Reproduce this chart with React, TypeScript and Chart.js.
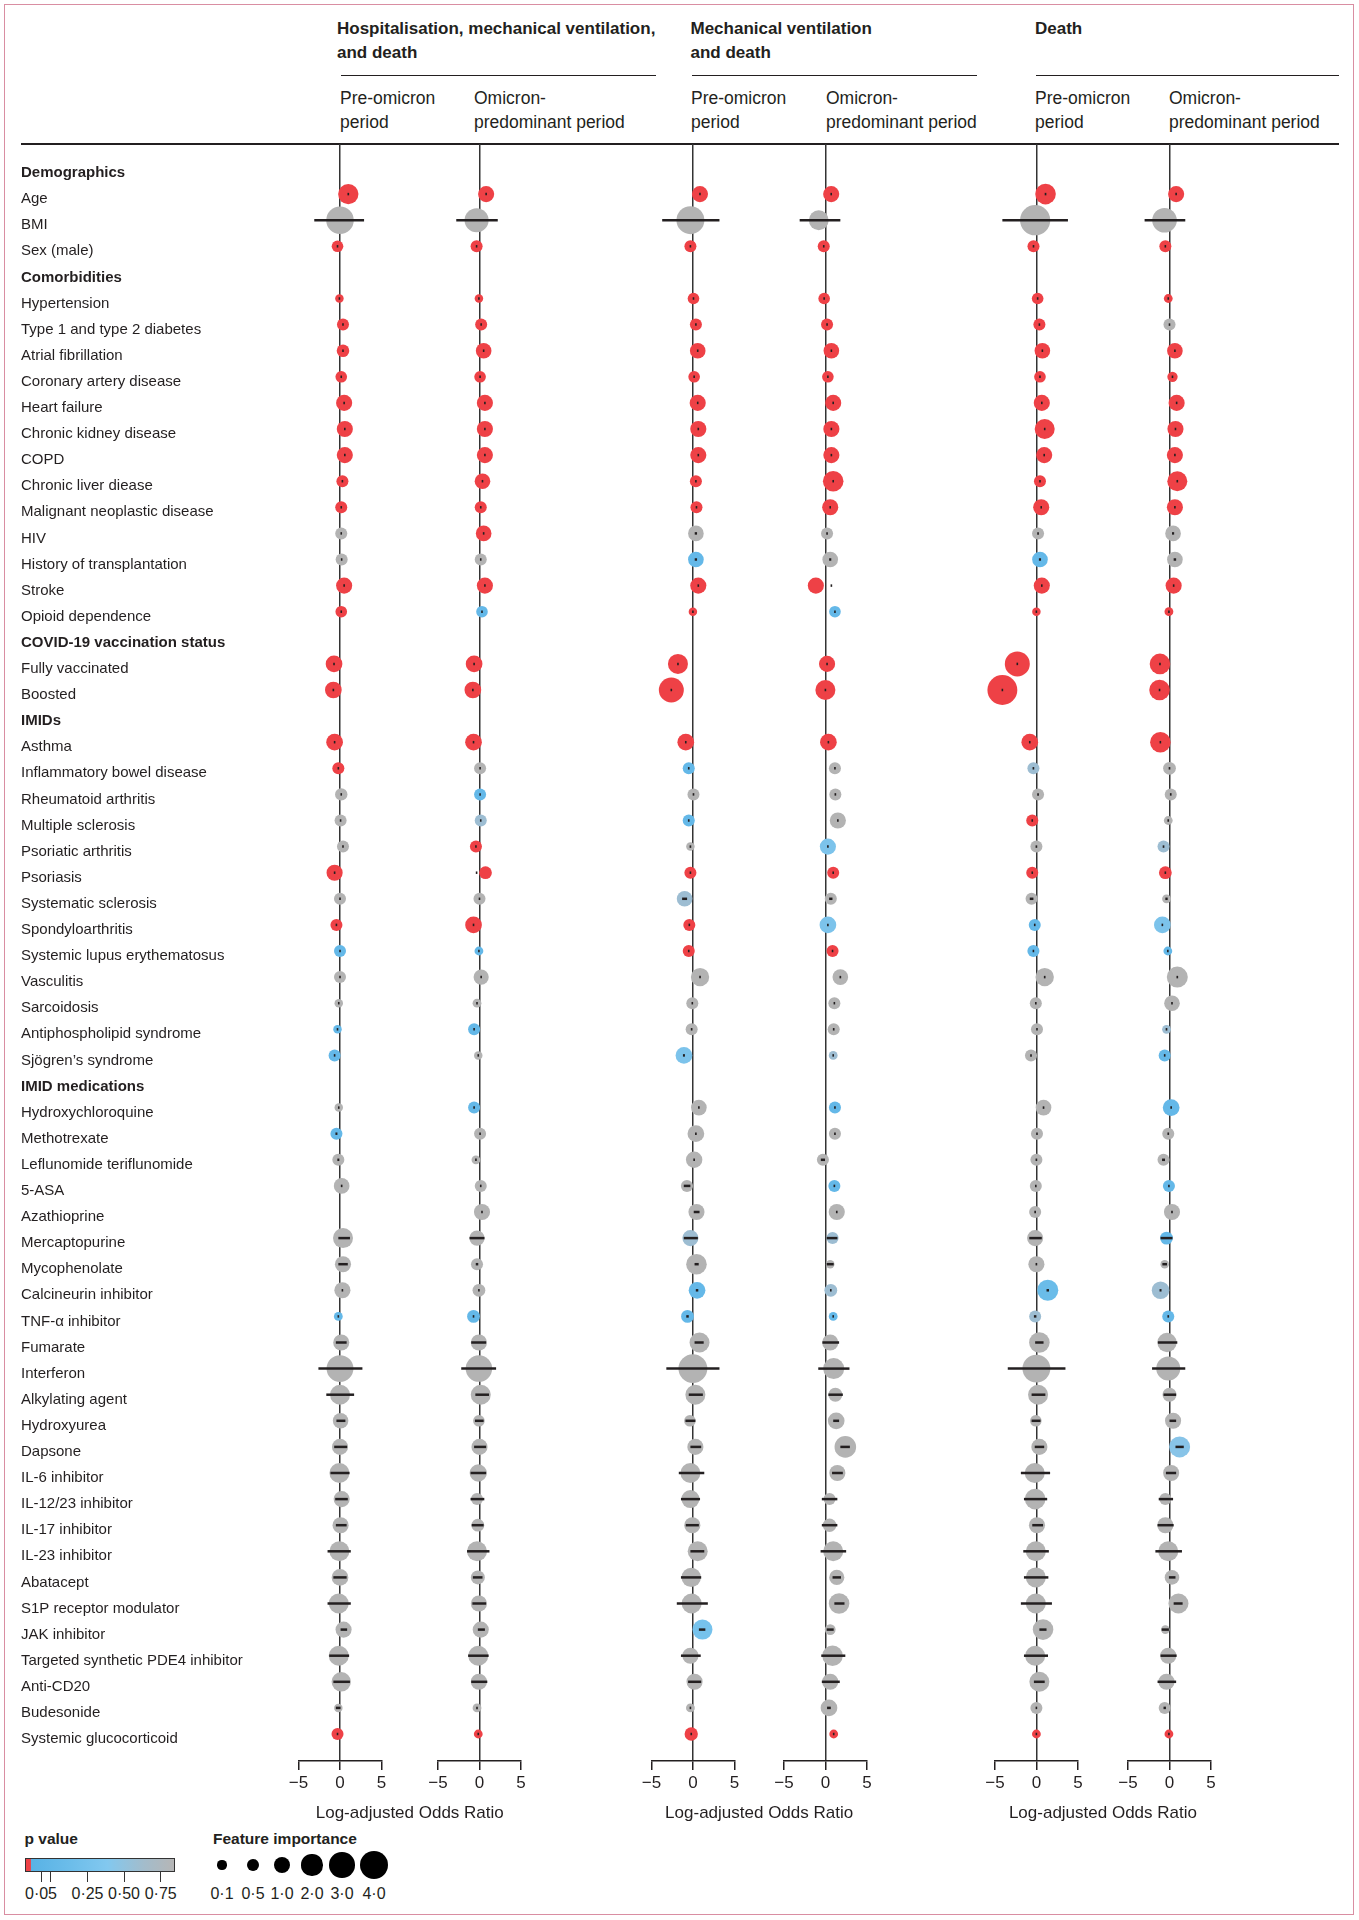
import React, { useEffect, useRef } from 'react';
import { Chart, registerables } from 'chart.js';

Chart.register(...registerables);

const _ = null;

// ---------------- categories ----------------
const ROW_LABELS = [
  'Demographics', 'Age', 'BMI', 'Sex (male)',
  'Comorbidities', 'Hypertension', 'Type 1 and type 2 diabetes', 'Atrial fibrillation', 'Coronary artery disease',
  'Heart failure', 'Chronic kidney disease', 'COPD', 'Chronic liver diease', 'Malignant neoplastic disease', 'HIV',
  'History of transplantation', 'Stroke', 'Opioid dependence',
  'COVID-19 vaccination status', 'Fully vaccinated', 'Boosted',
  'IMIDs', 'Asthma', 'Inflammatory bowel disease', 'Rheumatoid arthritis', 'Multiple sclerosis', 'Psoriatic arthritis',
  'Psoriasis', 'Systematic sclerosis', 'Spondyloarthritis', 'Systemic lupus erythematosus', 'Vasculitis', 'Sarcoidosis',
  'Antiphospholipid syndrome', 'Sjögren’s syndrome',
  'IMID medications', 'Hydroxychloroquine', 'Methotrexate', 'Leflunomide teriflunomide', '5-ASA', 'Azathioprine',
  'Mercaptopurine', 'Mycophenolate', 'Calcineurin inhibitor', 'TNF-α inhibitor', 'Fumarate', 'Interferon',
  'Alkylating agent', 'Hydroxyurea', 'Dapsone', 'IL-6 inhibitor', 'IL-12/23 inhibitor', 'IL-17 inhibitor',
  'IL-23 inhibitor', 'Abatacept', 'S1P receptor modulator', 'JAK inhibitor', 'Targeted synthetic PDE4 inhibitor',
  'Anti-CD20', 'Budesonide', 'Systemic glucocorticoid',
];
const HEADER_ROWS = [0, 4, 18, 21, 35];

const GROUP_TITLES = [
  ['Hospitalisation, mechanical ventilation,', 'and death'],
  ['Mechanical ventilation', 'and death'],
  ['Death'],
];
const PERIOD_TITLES = [
  ['Pre-omicron', 'period'],
  ['Omicron-', 'predominant period'],
];
const X_TICKS = [-5, 0, 5];
const X_TITLE = 'Log-adjusted Odds Ratio';
const P_LEGEND_TITLE = 'p value';
const P_LEGEND_LABELS = ['0·05', '0·25', '0·50', '0·75'];
const IMP_LEGEND_TITLE = 'Feature importance';
const IMP_LEGEND_VALUES = [0.1, 0.5, 1.0, 2.0, 3.0, 4.0];
const IMP_LEGEND_LABELS = ['0·1', '0·5', '1·0', '2·0', '3·0', '4·0'];

// ---------------- Panel 1: hospitalisation/MV/death, pre-omicron ----------------
const HMD_PRE_OR = [_, 1.0, 0, -0.3,
  _, -0.07, 0.36, 0.36, 0.15, 0.5, 0.58, 0.58, 0.29, 0.15, 0.15, 0.2, 0.5, 0.15,
  _, -0.72, -0.8,
  _, -0.65, -0.2, 0.15, 0.07, 0.36, -0.65, 0, -0.43, 0, 0, -0.15, -0.3, -0.65,
  _, -0.15, -0.43, -0.2, 0.2, _, 0.36, 0.36, 0.29, -0.2, 0.15, 0, 0, 0.07, 0, -0.07, 0.2, 0.07, -0.07, 0, -0.15, 0.43, -0.15, 0.15, -0.2, -0.3];
const HMD_PRE_LO = [_, 0.9, -3.1, -0.36,
  _, -0.11, 0.31, 0.31, 0.1, 0.45, 0.53, 0.53, 0.24, 0.1, 0.07, 0.12, 0.45, 0.1,
  _, -0.77, -0.85,
  _, -0.7, -0.28, 0.07, -0.01, 0.28, -0.7, -0.1, -0.49, -0.07, -0.08, -0.2, -0.36, -0.73,
  _, -0.2, -0.55, -0.32, 0.1, _, -0.2, -0.2, 0.2, -0.26, -0.5, -2.6, -1.65, -0.43, -0.7, -1.15, -0.58, -0.5, -1.5, -0.8, -1.5, 0.07, -1.3, -0.8, -0.5, -0.35];
const HMD_PRE_HI = [_, 1.1, 2.9, -0.24,
  _, -0.03, 0.41, 0.41, 0.2, 0.55, 0.63, 0.63, 0.34, 0.2, 0.23, 0.28, 0.55, 0.2,
  _, -0.67, -0.75,
  _, -0.6, -0.12, 0.23, 0.15, 0.44, -0.6, 0.1, -0.37, 0.07, 0.08, -0.1, -0.24, -0.57,
  _, -0.1, -0.31, -0.08, 0.3, _, 1.2, 0.94, 0.38, -0.14, 0.8, 2.7, 1.7, 0.65, 0.86, 1.15, 0.94, 0.8, 1.3, 0.8, 1.3, 0.86, 1.1, 1.2, 0.07, -0.25];
const HMD_PRE_P = [_, 0.001, 0.85, 0.001,
  _, 0.001, 0.001, 0.001, 0.001, 0.001, 0.001, 0.001, 0.001, 0.001, 0.85, 0.85, 0.001, 0.001,
  _, 0.001, 0.001,
  _, 0.001, 0.001, 0.85, 0.85, 0.85, 0.001, 0.85, 0.001, 0.15, 0.85, 0.85, 0.15, 0.15,
  _, 0.85, 0.15, 0.85, 0.85, _, 0.85, 0.85, 0.85, 0.15, 0.85, 0.85, 0.85, 0.85, 0.85, 0.85, 0.85, 0.85, 0.85, 0.85, 0.85, 0.85, 0.85, 0.85, 0.85, 0.001];
const HMD_PRE_IMP = [_, 1.8, 3.6, 0.35,
  _, 0.02, 0.4, 0.47, 0.35, 1.0, 1.0, 1.0, 0.4, 0.4, 0.4, 0.4, 1.0, 0.35,
  _, 1.1, 1.1,
  _, 1.1, 0.4, 0.45, 0.4, 0.4, 1.0, 0.4, 0.4, 0.4, 0.4, 0.02, 0.02, 0.4,
  _, 0.02, 0.4, 0.4, 0.92, _, 1.73, 1.0, 1.0, 0.05, 1.0, 3.4, 1.73, 0.9, 1.0, 1.73, 1.0, 1.0, 1.73, 1.1, 1.73, 1.0, 1.73, 1.6, 0.02, 0.4];

// ---------------- Panel 2: hospitalisation/MV/death, omicron ----------------
const HMD_OMI_OR = [_, 0.8, -0.35, -0.35,
  _, -0.07, 0.2, 0.5, 0.07, 0.65, 0.65, 0.65, 0.36, 0.15, 0.5, 0.15, 0.65, 0.3,
  _, -0.65, -0.8,
  _, -0.72, 0.07, 0.07, 0.15, -0.43, 0.72, 0, -0.72, -0.07, 0.2, -0.3, -0.65, -0.15,
  _, -0.65, 0.07, -0.43, 0.15, 0.3, -0.3, -0.3, -0.07, -0.72, -0.07, -0.07, 0.15, -0.07, 0, -0.15, -0.3, -0.2, -0.3, -0.2, -0.07, 0.15, -0.15, -0.07, -0.3, -0.15];
const HMD_OMI_LO = [_, 0.72, -2.8, -0.41,
  _, -0.1, 0.15, 0.45, 0.02, 0.6, 0.6, 0.6, 0.3, 0.1, 0.42, 0.08, 0.6, 0.23,
  _, -0.7, -0.85,
  _, -0.77, -0.01, 0.0, 0.07, -0.52, -0.4, -0.08, -0.78, -0.11, 0.11, -0.36, -0.73, -0.2,
  _, -0.73, 0.0, -0.5, 0.08, 0.22, -1.2, -0.45, -0.12, -0.79, -1.0, -2.2, -0.5, -0.55, -0.65, -1.08, -1.08, -0.94, -1.5, -0.8, -0.86, -0.2, -1.37, -1.0, -0.36, -0.19];
const HMD_OMI_HI = [_, 0.88, 2.2, -0.29,
  _, -0.04, 0.25, 0.55, 0.12, 0.7, 0.7, 0.7, 0.42, 0.2, 0.58, 0.22, 0.7, 0.37,
  _, -0.6, -0.75,
  _, -0.67, 0.15, 0.14, 0.23, -0.34, -0.3, 0.08, -0.66, -0.03, 0.29, -0.24, -0.57, -0.1,
  _, -0.57, 0.14, -0.36, 0.22, 0.38, 0.6, -0.15, -0.02, -0.65, 0.8, 2.0, 1.15, 0.5, 0.8, 0.8, 0.58, 0.5, 1.2, 0.36, 0.8, 0.65, 1.1, 0.94, -0.24, -0.11];
const HMD_OMI_P = [_, 0.001, 0.85, 0.001,
  _, 0.001, 0.001, 0.001, 0.001, 0.001, 0.001, 0.001, 0.001, 0.001, 0.001, 0.85, 0.001, 0.15,
  _, 0.001, 0.001,
  _, 0.001, 0.85, 0.15, 0.6, 0.001, 0.001, 0.85, 0.001, 0.15, 0.85, 0.85, 0.15, 0.85,
  _, 0.15, 0.85, 0.85, 0.85, 0.85, 0.85, 0.85, 0.85, 0.15, 0.85, 0.85, 0.85, 0.85, 0.85, 0.85, 0.85, 0.85, 0.85, 0.85, 0.85, 0.85, 0.85, 0.85, 0.85, 0.001];
const HMD_OMI_IMP = [_, 1.0, 2.65, 0.4,
  _, 0.02, 0.4, 0.92, 0.35, 1.0, 1.0, 1.0, 0.92, 0.4, 0.92, 0.4, 1.0, 0.35,
  _, 1.1, 1.1,
  _, 1.1, 0.4, 0.4, 0.4, 0.4, 0.5, 0.4, 1.1, 0.05, 0.85, 0.05, 0.4, 0.02,
  _, 0.4, 0.4, 0.05, 0.4, 1.0, 0.85, 0.4, 0.5, 0.5, 1.0, 3.3, 1.73, 0.35, 1.0, 1.2, 0.4, 0.5, 1.73, 0.67, 1.0, 1.0, 1.73, 1.0, 0.05, 0.05];

// ---------------- Panel 3: MV and death, pre-omicron ----------------
const MVD_PRE_OR = [_, 0.85, -0.3, -0.3,
  _, 0.07, 0.36, 0.58, 0.15, 0.58, 0.65, 0.65, 0.36, 0.43, 0.36, 0.36, 0.65, 0,
  _, -1.8, -2.6,
  _, -0.86, -0.5, 0.07, -0.5, -0.3, -0.3, -1.0, -0.43, -0.5, 0.86, -0.07, -0.15, -1.08,
  _, 0.72, 0.36, 0.15, -0.72, 0.43, -0.3, 0.43, 0.5, -0.65, 0.8, 0, 0.3, -0.36, 0.3, -0.3, -0.3, -0.07, 0.58, -0.2, -0.15, 1.15, -0.3, 0.2, -0.3, -0.2];
const MVD_PRE_LO = [_, 0.78, -3.7, -0.36,
  _, 0.0, 0.3, 0.52, 0.1, 0.52, 0.6, 0.6, 0.3, 0.38, 0.22, 0.22, 0.6, -0.04,
  _, -1.86, -2.68,
  _, -0.92, -0.6, -0.03, -0.6, -0.4, -0.36, -1.3, -0.5, -0.56, 0.76, -0.15, -0.25, -1.2,
  _, 0.62, 0.26, 0.05, -1.1, 0.1, -1.1, 0.2, 0.35, -0.8, 0.2, -3.2, -0.5, -0.9, -0.3, -1.7, -1.44, -0.86, -0.3, -1.44, -1.94, 0.72, -1.44, -0.58, -0.36, -0.26];
const MVD_PRE_HI = [_, 0.92, 3.2, -0.24,
  _, 0.14, 0.42, 0.64, 0.2, 0.64, 0.7, 0.7, 0.42, 0.48, 0.5, 0.5, 0.7, 0.04,
  _, -1.74, -2.52,
  _, -0.8, -0.4, 0.17, -0.4, -0.2, -0.24, -0.7, -0.36, -0.44, 0.96, 0.01, -0.05, -0.96,
  _, 0.82, 0.46, 0.25, -0.3, 0.8, 0.6, 0.7, 0.65, -0.5, 1.3, 3.2, 1.2, 0.3, 1.0, 1.37, 0.86, 0.72, 1.37, 1.0, 1.8, 1.5, 0.94, 1.0, -0.24, -0.14];
const MVD_PRE_P = [_, 0.001, 0.85, 0.001,
  _, 0.001, 0.001, 0.001, 0.001, 0.001, 0.001, 0.001, 0.001, 0.001, 0.85, 0.15, 0.001, 0.001,
  _, 0.001, 0.001,
  _, 0.001, 0.15, 0.85, 0.15, 0.85, 0.001, 0.6, 0.02, 0.001, 0.85, 0.85, 0.85, 0.35,
  _, 0.85, 0.85, 0.85, 0.85, 0.85, 0.6, 0.85, 0.15, 0.15, 0.85, 0.85, 0.85, 0.85, 0.85, 0.85, 0.85, 0.85, 0.85, 0.85, 0.85, 0.3, 0.85, 0.85, 0.85, 0.001];
const MVD_PRE_IMP = [_, 1.0, 3.7, 0.4,
  _, 0.35, 0.4, 0.92, 0.35, 1.0, 1.0, 1.0, 0.4, 0.4, 0.92, 0.92, 1.0, 0.02,
  _, 1.73, 2.9,
  _, 1.1, 0.4, 0.4, 0.4, 0.02, 0.4, 0.92, 0.4, 0.4, 1.4, 0.4, 0.4, 1.1,
  _, 0.92, 1.1, 1.05, 0.4, 1.0, 1.0, 1.85, 1.1, 0.5, 1.73, 4.0, 1.73, 0.35, 1.0, 1.73, 1.33, 1.0, 1.73, 1.6, 1.73, 1.73, 1.0, 1.0, 0.05, 0.57];

// ---------------- Panel 4: MV and death, omicron ----------------
const MVD_OMI_OR = [_, 0.7, -0.8, -0.2,
  _, -0.15, 0.2, 0.72, 0.3, 0.94, 0.72, 0.72, 0.94, 0.58, 0.2, 0.58, -1.15, 1.15,
  _, 0.2, 0,
  _, 0.36, 1.15, 1.2, 1.5, 0.3, 0.94, 0.65, 0.3, 0.86, 1.8, 1.08, 1.0, 0.94,
  _, 1.15, 1.15, -0.3, 1.08, 1.37, 0.86, 0.58, 0.65, 0.94, 0.58, 1.0, 1.2, 1.3, 2.4, 1.44, 0.5, 0.5, 0.94, 1.37, 1.65, 0.58, 0.86, 0.58, 0.43, 1.0];
const MVD_OMI_LO = [_, 0.64, -3.1, -0.26,
  _, -0.21, 0.14, 0.66, 0.24, 0.88, 0.66, 0.66, 0.88, 0.52, 0.1, 0.45, 0.68, 1.08,
  _, 0.14, -0.06,
  _, 0.3, 1.05, 1.1, 1.4, 0.2, 0.88, 0.45, 0.22, 0.78, 1.7, 1.0, 0.9, 0.88,
  _, 1.05, 1.05, -0.55, 0.98, 1.27, 0.15, 0.15, 0.55, 0.86, -0.36, -0.86, 0.36, 0.94, 1.8, 0.8, -0.43, -0.43, -0.58, 0.86, 1.08, 0.15, -0.5, -0.43, 0.2, 0.94];
const MVD_OMI_HI = [_, 0.76, 1.8, -0.14,
  _, -0.09, 0.26, 0.78, 0.36, 1.0, 0.78, 0.78, 1.0, 0.64, 0.3, 0.71, 0.76, 1.22,
  _, 0.26, 0.06,
  _, 0.42, 1.25, 1.3, 1.6, 0.4, 1.0, 0.85, 0.38, 0.94, 1.9, 1.16, 1.1, 1.0,
  _, 1.25, 1.25, -0.05, 1.18, 1.47, 1.45, 1.0, 0.75, 1.02, 1.65, 2.9, 2.1, 1.65, 2.95, 2.1, 1.44, 1.44, 2.5, 1.88, 2.3, 1.0, 2.4, 1.73, 0.65, 1.06];
const MVD_OMI_P = [_, 0.001, 0.85, 0.001,
  _, 0.001, 0.001, 0.001, 0.001, 0.001, 0.001, 0.001, 0.001, 0.001, 0.85, 0.85, 0.001, 0.15,
  _, 0.001, 0.001,
  _, 0.001, 0.85, 0.85, 0.85, 0.35, 0.001, 0.85, 0.35, 0.001, 0.85, 0.85, 0.85, 0.6,
  _, 0.15, 0.85, 0.85, 0.15, 0.85, 0.6, 0.85, 0.6, 0.15, 0.85, 0.85, 0.85, 0.85, 0.85, 0.85, 0.85, 0.85, 0.85, 0.85, 0.85, 0.85, 0.85, 0.85, 0.85, 0.001];
const MVD_OMI_IMP = [_, 1.0, 1.7, 0.4,
  _, 0.35, 0.4, 0.92, 0.35, 1.0, 1.0, 1.0, 1.85, 1.0, 0.4, 0.92, 1.0, 0.35,
  _, 1.0, 1.73,
  _, 1.1, 0.4, 0.4, 1.0, 1.0, 0.4, 0.4, 1.1, 0.4, 0.92, 0.4, 0.4, 0.05,
  _, 0.4, 0.4, 0.4, 0.4, 1.0, 0.4, 0.02, 0.5, 0.05, 1.0, 1.95, 0.67, 1.1, 2.07, 1.0, 0.4, 0.6, 1.73, 0.85, 1.85, 0.25, 1.85, 1.0, 1.1, 0.05];

// ---------------- Panel 5: death, pre-omicron ----------------
const DTH_PRE_OR = [_, 1.1, -0.15, -0.35,
  _, 0.15, 0.36, 0.72, 0.43, 0.65, 1.0, 0.94, 0.43, 0.58, 0.2, 0.43, 0.65, 0,
  _, -2.3, -4.1,
  _, -0.8, -0.36, 0.2, -0.5, 0, -0.5, -0.58, -0.2, -0.36, 1.0, -0.07, 0.07, -0.65,
  _, 0.86, 0.07, 0, -0.07, -0.15, -0.15, 0, 1.37, -0.15, 0.36, 0, 0.2, -0.07, 0.36, -0.2, -0.15, 0.07, -0.07, -0.07, -0.07, 0.8, -0.15, 0.36, 0, 0];
const DTH_PRE_LO = [_, 1.0, -4.1, -0.41,
  _, 0.09, 0.3, 0.66, 0.37, 0.59, 0.94, 0.88, 0.37, 0.52, 0.1, 0.3, 0.59, -0.04,
  _, -2.36, -4.18,
  _, -0.86, -0.46, 0.1, -0.58, -0.1, -0.56, -0.8, -0.28, -0.44, 0.9, -0.15, -0.01, -0.75,
  _, 0.76, -0.01, -0.1, -0.15, -0.25, -0.86, -0.1, 1.22, -0.3, -0.15, -3.45, -0.58, -0.58, -0.2, -1.87, -1.5, -0.5, -1.58, -1.5, -1.87, 0.36, -1.5, -0.3, -0.07, -0.04];
const DTH_PRE_HI = [_, 1.2, 3.8, -0.29,
  _, 0.21, 0.42, 0.78, 0.49, 0.71, 1.06, 1.0, 0.49, 0.64, 0.3, 0.56, 0.71, 0.04,
  _, -2.24, -4.02,
  _, -0.74, -0.26, 0.3, -0.42, 0.1, -0.44, -0.36, -0.12, -0.28, 1.1, 0.01, 0.15, -0.55,
  _, 0.96, 0.15, 0.1, 0.01, -0.05, 0.65, 0.1, 1.52, 0.0, 0.86, 3.5, 1.08, 0.5, 0.94, 1.65, 1.3, 0.8, 1.5, 1.44, 1.87, 1.22, 1.4, 1.0, 0.07, 0.04];
const DTH_PRE_P = [_, 0.001, 0.85, 0.001,
  _, 0.001, 0.001, 0.001, 0.001, 0.001, 0.001, 0.001, 0.001, 0.001, 0.85, 0.15, 0.001, 0.001,
  _, 0.001, 0.001,
  _, 0.001, 0.6, 0.85, 0.001, 0.85, 0.001, 0.85, 0.15, 0.15, 0.85, 0.85, 0.85, 0.85,
  _, 0.85, 0.85, 0.85, 0.85, 0.85, 0.85, 0.85, 0.2, 0.6, 0.85, 0.85, 0.85, 0.85, 0.85, 0.85, 0.85, 0.85, 0.85, 0.85, 0.85, 0.85, 0.85, 0.85, 0.85, 0.001];
const DTH_PRE_IMP = [_, 1.85, 4.4, 0.4,
  _, 0.35, 0.4, 0.92, 0.35, 1.0, 1.73, 1.0, 0.4, 1.0, 0.4, 0.92, 1.0, 0.02,
  _, 2.9, 4.3,
  _, 1.1, 0.4, 0.4, 0.4, 0.4, 0.4, 0.4, 0.4, 0.4, 1.4, 0.4, 0.4, 0.4,
  _, 0.92, 0.4, 0.4, 0.4, 0.4, 1.0, 1.0, 1.95, 0.4, 1.85, 3.7, 1.73, 0.35, 1.0, 1.73, 1.85, 1.0, 1.73, 1.73, 1.73, 1.85, 1.73, 1.73, 0.4, 0.05];

// ---------------- Panel 6: death, omicron ----------------
const DTH_OMI_OR = [_, 0.8, -0.6, -0.5,
  _, -0.15, 0, 0.65, 0.36, 0.86, 0.72, 0.65, 0.94, 0.65, 0.43, 0.65, 0.5, -0.07,
  _, -1.15, -1.2,
  _, -1.1, 0, 0.15, -0.15, -0.72, -0.5, -0.36, -0.86, -0.2, 0.94, 0.3, -0.36, -0.58,
  _, 0.2, -0.15, -0.72, -0.07, 0.3, -0.36, -0.58, -1.08, -0.15, -0.3, -0.15, 0, 0.43, 1.22, 0.2, -0.5, -0.5, -0.15, 0.3, 1.08, -0.5, -0.15, -0.36, -0.58, -0.07];
const DTH_OMI_LO = [_, 0.74, -3.0, -0.56,
  _, -0.2, -0.06, 0.59, 0.3, 0.8, 0.66, 0.59, 0.88, 0.59, 0.3, 0.5, 0.44, -0.11,
  _, -1.21, -1.26,
  _, -1.16, -0.1, 0.05, -0.25, -0.82, -0.56, -0.5, -0.94, -0.28, 0.84, 0.2, -0.46, -0.66,
  _, 0.1, -0.25, -0.9, -0.15, 0.2, -1.08, -0.86, -1.2, -0.25, -1.4, -2.1, -0.72, 0.0, 0.72, -0.43, -1.3, -1.44, -1.7, -0.07, 0.5, -0.94, -1.08, -1.44, -0.72, -0.11];
const DTH_OMI_HI = [_, 0.86, 1.9, -0.44,
  _, -0.1, 0.06, 0.71, 0.42, 0.92, 0.78, 0.71, 1.0, 0.71, 0.56, 0.8, 0.56, -0.03,
  _, -1.09, -1.14,
  _, -1.04, 0.1, 0.25, -0.05, -0.62, -0.44, -0.22, -0.78, -0.12, 1.04, 0.4, -0.26, -0.5,
  _, 0.3, -0.05, -0.54, 0.01, 0.4, 0.36, -0.3, -0.96, -0.05, 0.94, 1.9, 0.8, 0.8, 1.72, 0.8, 0.43, 0.5, 1.5, 0.72, 1.58, -0.07, 0.86, 0.8, -0.43, -0.03];
const DTH_OMI_P = [_, 0.001, 0.85, 0.001,
  _, 0.001, 0.85, 0.001, 0.001, 0.001, 0.001, 0.001, 0.001, 0.001, 0.85, 0.85, 0.001, 0.001,
  _, 0.001, 0.001,
  _, 0.001, 0.85, 0.85, 0.85, 0.6, 0.001, 0.85, 0.35, 0.15, 0.85, 0.85, 0.6, 0.15,
  _, 0.15, 0.85, 0.85, 0.15, 0.85, 0.15, 0.85, 0.6, 0.15, 0.85, 0.85, 0.85, 0.85, 0.45, 0.85, 0.85, 0.85, 0.85, 0.85, 0.85, 0.85, 0.85, 0.85, 0.85, 0.001];
const DTH_OMI_IMP = [_, 1.0, 2.8, 0.4,
  _, 0.05, 0.4, 0.92, 0.2, 1.0, 1.0, 1.0, 1.73, 1.0, 0.92, 0.92, 1.0, 0.05,
  _, 1.85, 1.85,
  _, 1.85, 0.5, 0.4, 0.05, 0.4, 0.5, 0.05, 1.1, 0.05, 1.95, 0.92, 0.05, 0.4,
  _, 1.1, 0.4, 0.4, 0.4, 1.0, 0.5, 0.02, 1.25, 0.4, 1.6, 2.65, 0.67, 1.0, 1.95, 1.0, 0.4, 1.0, 1.73, 0.75, 1.73, 0.03, 1.0, 1.0, 0.4, 0.05];

const PANELS = [
  { or: HMD_PRE_OR, lo: HMD_PRE_LO, hi: HMD_PRE_HI, p: HMD_PRE_P, imp: HMD_PRE_IMP },
  { or: HMD_OMI_OR, lo: HMD_OMI_LO, hi: HMD_OMI_HI, p: HMD_OMI_P, imp: HMD_OMI_IMP },
  { or: MVD_PRE_OR, lo: MVD_PRE_LO, hi: MVD_PRE_HI, p: MVD_PRE_P, imp: MVD_PRE_IMP },
  { or: MVD_OMI_OR, lo: MVD_OMI_LO, hi: MVD_OMI_HI, p: MVD_OMI_P, imp: MVD_OMI_IMP },
  { or: DTH_PRE_OR, lo: DTH_PRE_LO, hi: DTH_PRE_HI, p: DTH_PRE_P, imp: DTH_PRE_IMP },
  { or: DTH_OMI_OR, lo: DTH_OMI_LO, hi: DTH_OMI_HI, p: DTH_OMI_P, imp: DTH_OMI_IMP },
];

// ---------------- layout & style ----------------
const FONT = "'Liberation Sans', Arial, Helvetica, sans-serif";
const INK = '#231f20';
const SIG_RED = '#ee4146';
const P_COLOR_STOPS: [number, number[]][] = [
  [0.05, [88, 178, 229]],
  [0.3, [118, 194, 236]],
  [0.5, [142, 196, 230]],
  [0.65, [164, 185, 200]],
  [0.8, [179, 179, 179]],
];
const PANEL_ZERO_X = [340, 479.5, 692.9, 825.4, 1036.4, 1169.5];
const PLOT_HALF = 41.5;
const SIDE_PAD = 30;
const LABEL_LEFT = 21;
const CANVAS_TOP = 124;
const PLOT_TOP = 144;
const PLOT_BOTTOM = 1761;
const X_AXIS_H = 60;
const CANVAS_H = PLOT_BOTTOM - CANVAS_TOP + X_AXIS_H;
const ROW0_Y = 168;
const ROW_STEP = 26.1;
const Y_MIN = (PLOT_TOP - ROW0_Y) / ROW_STEP;
const Y_MAX = (PLOT_BOTTOM - ROW0_Y) / ROW_STEP;

function pColor(p: number): string {
  if (p < 0.05) return SIG_RED;
  const s = P_COLOR_STOPS;
  if (p <= s[0][0]) return `rgb(${s[0][1].join(',')})`;
  for (let k = 1; k < s.length; k++) {
    if (p <= s[k][0]) {
      const t = (p - s[k - 1][0]) / (s[k][0] - s[k - 1][0]);
      const c = s[k - 1][1].map((v, j) => Math.round(v + (s[k][1][j] - v) * t));
      return `rgb(${c.join(',')})`;
    }
  }
  return `rgb(${s[s.length - 1][1].join(',')})`;
}

function radiusFor(imp: number): number {
  return Math.sqrt(17 + 48 * imp);
}

function panelGeom(i: number) {
  const z = PANEL_ZERO_X[i];
  const plotLeft = z - PLOT_HALF;
  const plotRight = z + PLOT_HALF;
  const left = i === 0 ? 0 : Math.floor(plotLeft - SIDE_PAD);
  const right = Math.ceil(plotRight + SIDE_PAD);
  return {
    left,
    width: right - left,
    padLeft: i === 0 ? LABEL_LEFT : plotLeft - left,
    padRight: right - plotRight,
    yAxisWidth: i === 0 ? plotLeft - LABEL_LEFT : 0,
  };
}

const errorBarPlugin = {
  id: 'errorBars',
  afterDatasetsDraw(chart: any) {
    const { ctx, scales } = chart;
    const xs = scales.x;
    const ys = scales.y;
    const data = chart.data.datasets[0].data as any[];
    ctx.save();
    ctx.strokeStyle = INK;
    ctx.lineWidth = 2.5;
    ctx.lineCap = 'butt';
    data.forEach((d) => {
      const py = ys.getPixelForValue(d.y);
      let x1 = xs.getPixelForValue(d.lo);
      let x2 = xs.getPixelForValue(d.hi);
      if (x2 - x1 < 1.6) {
        const m = (x1 + x2) / 2;
        x1 = m - 0.8;
        x2 = m + 0.8;
      }
      ctx.beginPath();
      ctx.moveTo(x1, py);
      ctx.lineTo(x2, py);
      ctx.stroke();
    });
    ctx.restore();
  },
};

function PanelChart({ index }: { index: number }) {
  const ref = useRef<HTMLCanvasElement | null>(null);
  const g = panelGeom(index);
  useEffect(() => {
    const panel = PANELS[index];
    const points: any[] = [];
    const colors: string[] = [];
    panel.or.forEach((v, row) => {
      if (v === null || v === undefined) return;
      points.push({ x: v, y: row, r: radiusFor(panel.imp[row] as number), lo: panel.lo[row], hi: panel.hi[row] });
      colors.push(pColor(panel.p[row] as number));
    });
    const chart = new Chart(ref.current as HTMLCanvasElement, {
      type: 'bubble',
      data: {
        datasets: [{ data: points, backgroundColor: colors, borderWidth: 0, clip: false } as any],
      },
      plugins: [errorBarPlugin],
      options: {
        animation: false,
        responsive: false,
        maintainAspectRatio: false,
        devicePixelRatio: 1,
        events: [],
        layout: { padding: { left: g.padLeft, right: g.padRight, top: PLOT_TOP - CANVAS_TOP, bottom: 0 } },
        plugins: { legend: { display: false }, tooltip: { enabled: false }, title: { display: false } },
        scales: {
          x: {
            type: 'linear',
            min: -5,
            max: 5,
            z: 1,
            afterBuildTicks: (s: any) => {
              s.ticks = X_TICKS.map((v) => ({ value: v }));
            },
            afterFit: (s: any) => {
              s.height = X_AXIS_H;
            },
            grid: {
              drawOnChartArea: true,
              color: (c: any) => (c.tick && c.tick.value === 0 ? '#333333' : 'rgba(0,0,0,0)'),
              lineWidth: 1.5,
              drawTicks: true,
              tickLength: 9,
              tickColor: INK,
              tickWidth: 1.5,
            },
            border: { display: true, color: INK, width: 1.5 },
            ticks: {
              autoSkip: false,
              maxRotation: 0,
              padding: 3,
              color: INK,
              font: { family: FONT, size: 17 },
              callback: (v: any) => (Number(v) < 0 ? '\u2212' + Math.abs(Number(v)) : String(v)),
            },
          },
          y: {
            type: 'linear',
            reverse: true,
            min: Y_MIN,
            max: Y_MAX,
            display: index === 0,
            afterBuildTicks: (s: any) => {
              s.ticks = ROW_LABELS.map((_l, k) => ({ value: k }));
            },
            afterFit: (s: any) => {
              s.width = g.yAxisWidth;
            },
            grid: { display: false },
            border: { display: false },
            ticks: {
              autoSkip: false,
              crossAlign: 'far',
              padding: 0,
              labelOffset: 5,
              color: INK,
              callback: (v: any) => ROW_LABELS[Math.round(Number(v))] ?? '',
              font: (c: any) => ({
                family: FONT,
                size: 15,
                weight: c.tick && HEADER_ROWS.includes(Math.round(c.tick.value)) ? 'bold' : 'normal',
              }),
            },
          },
        },
      } as any,
    });
    return () => chart.destroy();
  }, [index]);
  return (
    <canvas
      ref={ref}
      width={g.width}
      height={CANVAS_H}
      style={{ position: 'absolute', left: g.left, top: CANVAS_TOP, width: g.width, height: CANVAS_H }}
    />
  );
}

const abs = (o: any) => ({ position: 'absolute' as const, ...o });

export default function App() {
  const groupLefts = [337, 690.5, 1035];
  const groupLines = [
    [341, 656],
    [691.5, 977],
    [1035.5, 1339],
  ];
  const periodLefts = [340, 474, 691, 826, 1035, 1169];
  const axisTitleCenters = [0, 2, 4].map((k) => (PANEL_ZERO_X[k] + PANEL_ZERO_X[k + 1]) / 2);
  const pTickX = [41, 50.4, 87.5, 124, 160.7];
  const pLabelX = [41, 87.5, 124, 160.7];
  const impX = [222, 253, 282, 312, 342, 374];

  return (
    <div style={abs({ left: 0, top: 0, width: 1359, height: 1920, background: '#ffffff', fontFamily: FONT, color: INK, overflow: 'hidden' })}>
      <div style={abs({ left: 4, top: 4, width: 1350, height: 1911, boxSizing: 'border-box', border: '1.5px solid #d98ea2' })} />

      {GROUP_TITLES.map((lines, k) => (
        <div key={'g' + k} style={abs({ left: groupLefts[k], top: 17, fontSize: 17, fontWeight: 'bold', lineHeight: '24px', whiteSpace: 'nowrap' })}>
          {lines.map((l, j) => (
            <div key={j}>{l}</div>
          ))}
        </div>
      ))}
      {groupLines.map(([a, b], k) => (
        <div key={'gl' + k} style={abs({ left: a, top: 74.5, width: b - a, height: 1.5, background: INK })} />
      ))}
      {periodLefts.map((x, k) => (
        <div key={'p' + k} style={abs({ left: x, top: 86, fontSize: 17.5, lineHeight: '24px', whiteSpace: 'nowrap' })}>
          {PERIOD_TITLES[k % 2].map((l, j) => (
            <div key={j}>{l}</div>
          ))}
        </div>
      ))}
      <div style={abs({ left: LABEL_LEFT, top: 143, width: 1339 - LABEL_LEFT, height: 1.5, background: INK })} />

      {PANEL_ZERO_X.map((_z, i) => (
        <PanelChart key={i} index={i} />
      ))}

      {axisTitleCenters.map((cx, k) => (
        <div key={'xt' + k} style={abs({ left: cx - 150, width: 300, top: 1801, textAlign: 'center', fontSize: 17, lineHeight: '24px' })}>
          {X_TITLE}
        </div>
      ))}

      {/* p value legend */}
      <div style={abs({ left: 24.5, top: 1826.5, fontSize: 15.5, fontWeight: 'bold', lineHeight: '24px', whiteSpace: 'nowrap' })}>{P_LEGEND_TITLE}</div>
      <div
        style={abs({
          left: 24.5,
          top: 1857.5,
          width: 150.5,
          height: 14.5,
          boxSizing: 'border-box',
          border: '1px solid #333',
          background:
            'linear-gradient(to right, #ee4146 0%, #ee4146 3%, #58b2e5 3.5%, #6cbdea 30%, #82c8ef 55%, #a3bccb 80%, #b6b6b6 100%)',
        })}
      />
      {pTickX.map((x, k) => (
        <div key={'pt' + k} style={abs({ left: x - 0.5, top: 1872, width: 1, height: 10, background: '#333' })} />
      ))}
      {P_LEGEND_LABELS.map((l, k) => (
        <div key={'pl' + k} style={abs({ left: pLabelX[k] - 30, width: 60, top: 1881.5, textAlign: 'center', fontSize: 16, lineHeight: '24px' })}>
          {l}
        </div>
      ))}

      {/* feature importance legend */}
      <div style={abs({ left: 213, top: 1826.5, fontSize: 15.5, fontWeight: 'bold', lineHeight: '24px', whiteSpace: 'nowrap' })}>{IMP_LEGEND_TITLE}</div>
      {IMP_LEGEND_VALUES.map((v, k) => {
        const r = radiusFor(v);
        return <div key={'ic' + k} style={abs({ left: impX[k] - r, top: 1865 - r, width: 2 * r, height: 2 * r, borderRadius: '50%', background: '#000' })} />;
      })}
      {IMP_LEGEND_LABELS.map((l, k) => (
        <div key={'il' + k} style={abs({ left: impX[k] - 20, width: 40, top: 1881.5, textAlign: 'center', fontSize: 16, lineHeight: '24px' })}>
          {l}
        </div>
      ))}
    </div>
  );
}
